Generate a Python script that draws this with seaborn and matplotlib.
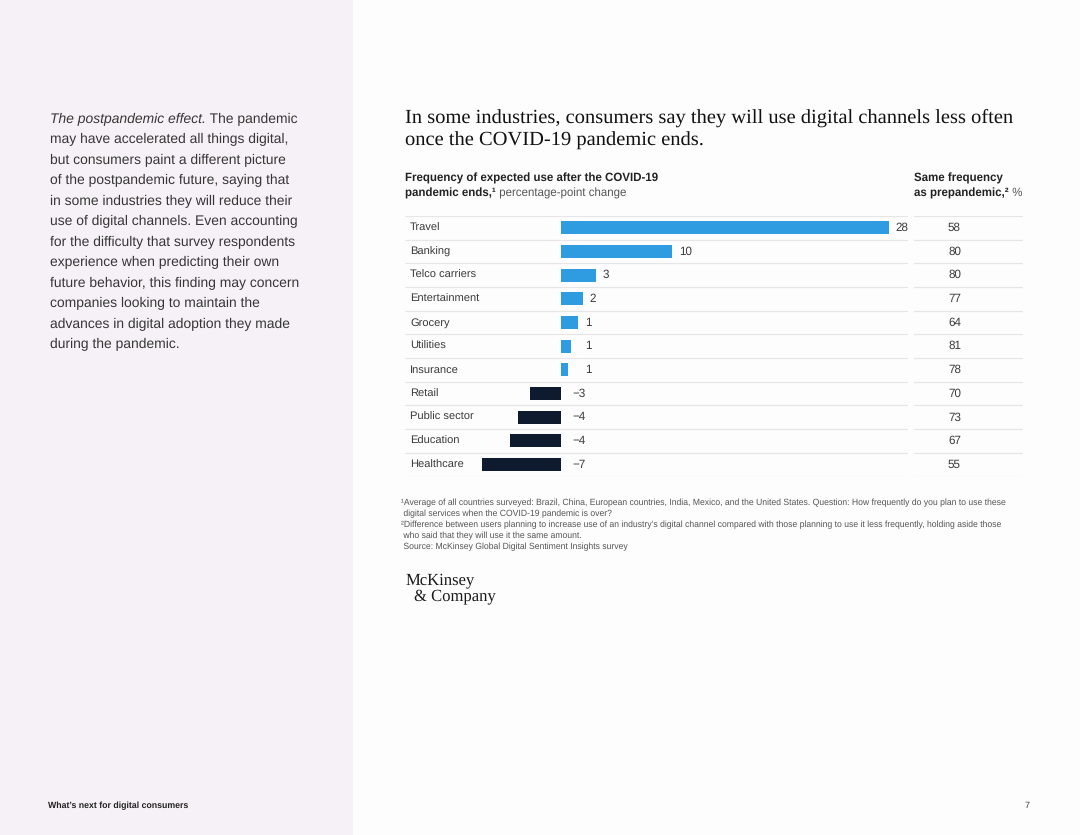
import numpy as np
import pandas as pd
import matplotlib
matplotlib.use('Agg')
import matplotlib.pyplot as plt
import matplotlib.transforms as mtransforms
from matplotlib.patches import Rectangle
import seaborn as sns

# -- Data ----------------------------------------------------------------------
industries = ['Travel', 'Banking', 'Telco carriers', 'Entertainment', 'Grocery',
              'Utilities', 'Insurance', 'Retail', 'Public sector', 'Education',
              'Healthcare']
# bar lengths (unrounded), and the printed labels
change_values = [28.0, 9.5, 2.96, 1.85, 1.43, 0.85, 0.62, -2.65, -3.65, -4.36, -6.77]
change_labels = ['28', '10', '3', '2', '1', '1', '1', '\u22123', '\u22124', '\u22124', '\u22127']
same_freq = [58, 80, 80, 77, 64, 81, 78, 70, 73, 67, 55]

title_lines = ['In some industries, consumers say they will use digital channels less often',
               'once the COVID-19 pandemic ends.']
body_lines = ['may have accelerated all things digital,',
              'but consumers paint a different picture',
              'of the postpandemic future, saying that',
              'in some industries they will reduce their',
              'use of digital channels. Even accounting',
              'for the difficulty that survey respondents',
              'experience when predicting their own',
              'future behavior, this finding may concern',
              'companies looking to maintain the',
              'advances in digital adoption they made',
              'during the pandemic.']
footnotes = ['\u00b9Average of all countries surveyed: Brazil, China, European countries, India, Mexico, and the United States. Question: How frequently do you plan to use these',
             ' digital services when the COVID-19 pandemic is over?',
             '\u00b2Difference between users planning to increase use of an industry\u2019s digital channel compared with those planning to use it less frequently, holding aside those',
             ' who said that they will use it the same amount.',
             ' Source: McKinsey Global Digital Sentiment Insights survey']

df = pd.DataFrame({'industry': industries, 'change': change_values})
df['direction'] = np.where(df['change'] >= 0, 'up', 'down')

# -- Style ---------------------------------------------------------------------
sns.set_style('white')
plt.rcParams['font.family'] = ['Liberation Sans', 'DejaVu Sans']
plt.rcParams['text.hinting'] = 'no_hinting'

BLUE = '#2f9be0'
NAVY = '#0e1a2d'
TXT = '#3a3a3a'
GRID = '#e6e6e9'
SERIF = ['Liberation Serif', 'DejaVu Serif']
W, H = 1080, 835

def fx(px):
    return px / W

def fy(py):
    return 1 - py / H

fig = plt.figure(figsize=(W / 100, H / 100), dpi=100, facecolor='#fefdfe')
fig.patches.append(Rectangle((0, 0), fx(353), 1, transform=fig.transFigure,
                             facecolor='#f6f1f6', edgecolor='none', zorder=0))
renderer = fig.canvas.get_renderer()

def runs(x, y, parts, **kw):
    # draw consecutive text pieces on one line: parts = [(text, fontdict), ...]
    for s, opts in parts:
        t = fig.text(fx(x), fy(y), s, va='center', ha='left', **kw, **opts)
        bb = t.get_window_extent(renderer=renderer)
        x += bb.width

# -- Left column text ------------------------------------------------------------
runs(50, 119, [('The postpandemic effect.', dict(style='italic')),
               (' The pandemic', {})], fontsize=10.0, color='#363636')
for i, line in enumerate(body_lines):
    fig.text(fx(50), fy(139.5 + 20.5 * i), line, fontsize=10.0, color='#363636',
             va='center', ha='left')
fig.text(fx(48), fy(806), 'What\u2019s next for digital consumers', fontsize=6.3,
         fontweight='bold', color='#222222', va='center')
fig.text(fx(1030), fy(806), '7', fontsize=6.5, color='#444444', va='center', ha='right')

# -- Title & headers ------------------------------------------------------------
for i, line in enumerate(title_lines):
    fig.text(fx(405), fy(118 + 23 * i), line, family=SERIF,
             fontsize=14.75, color='#111111', va='center', ha='left')

fig.text(fx(405), fy(178), 'Frequency of expected use after the COVID-19', fontsize=8.3,
         fontweight='bold', color='#222222', va='center')
runs(405, 193, [('pandemic ends,\u00b9', dict(fontweight='bold', color='#222222')),
                (' percentage-point change', dict(color='#555555'))], fontsize=8.3)
fig.text(fx(914), fy(178), 'Same frequency', fontsize=8.3, fontweight='bold',
         color='#222222', va='center')
runs(914, 193, [('as prepandemic,\u00b2', dict(fontweight='bold', color='#222222')),
                (' %', dict(color='#555555'))], fontsize=8.3)

# -- Bar chart ----------------------------------------------------------------
ax_l, ax_r, ax_t, ax_b = 405, 1023, 216, 476.5
ax = fig.add_axes([fx(ax_l), fy(ax_b), fx(ax_r - ax_l), (ax_b - ax_t) / H])
sns.barplot(data=df, x='change', y='industry', hue='direction', orient='h',
            palette={'up': BLUE, 'down': NAVY}, dodge=False, width=0.55,
            saturation=1, linewidth=0, legend=False, ax=ax)

px_per_unit = 11.71
zero_px = 561
ax.set_xlim((ax_l - zero_px) / px_per_unit, (ax_r - zero_px) / px_per_unit)
ax.set_ylim(len(industries) - 0.5, -0.5)
ax.set_axis_off()

# row separators, split between the bar area and the right column
split_l = (907 - ax_l) / (ax_r - ax_l)
split_r = (914 - ax_l) / (ax_r - ax_l)
for k in range(len(industries) + 1):
    ax.axhline(k - 0.5, xmin=0, xmax=split_l, color=GRID, lw=0.9, zorder=0)
    ax.axhline(k - 0.5, xmin=split_r, xmax=1, color=GRID, lw=0.9, zorder=0)

blend = mtransforms.blended_transform_factory(ax.transAxes, ax.transData)
col_x = (954.5 - ax_l) / (ax_r - ax_l)
for i, (name, v, lab, sf) in enumerate(zip(industries, change_values, change_labels, same_freq)):
    ax.text(0.008, i, name, transform=blend, fontsize=8, color=TXT, va='center', ha='left')
    lx = max(v, 1.5) + 0.55 if v >= 0 else 0.95
    ax.text(lx, i, lab, fontsize=8.4, color=TXT, va='center', ha='left')
    ax.text(col_x, i, str(sf), transform=blend, fontsize=8.4, color=TXT,
            va='center', ha='center')

# -- Footnotes & logo -------------------------------------------------------------
for i, line in enumerate(footnotes):
    fig.text(fx(401), fy(503 + 11 * i), line, fontsize=6.2, color='#555555',
             va='center', ha='left')

fig.text(fx(406), fy(580), 'McKinsey', family=SERIF,
         fontsize=12, color='#1a1a1a', va='center')
fig.text(fx(414), fy(596), '& Company', family=SERIF,
         fontsize=12, color='#1a1a1a', va='center')

plt.savefig('out.png', dpi=100, facecolor=fig.get_facecolor())
